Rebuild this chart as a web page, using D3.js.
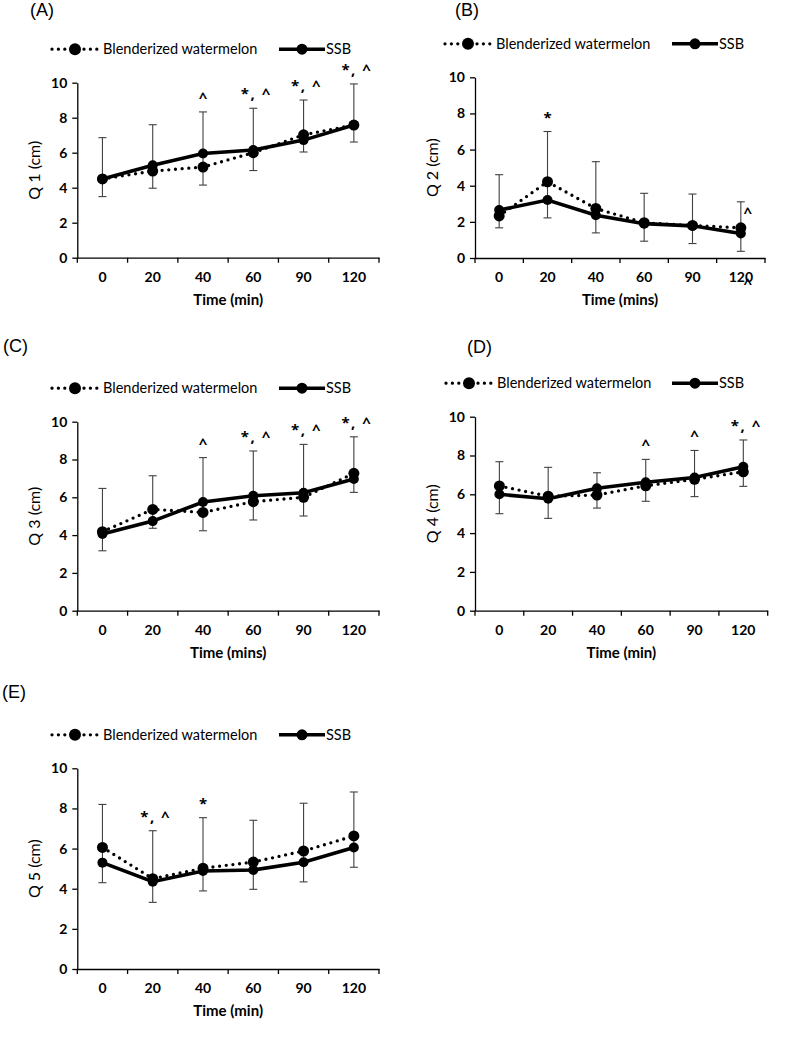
<!DOCTYPE html>
<html>
<head>
<meta charset="utf-8">
<script src="https://cdn.jsdelivr.net/npm/d3@7"></script>
<style>
  body { margin: 0; background: #fff; }
  text { font-family: Lato, "Open Sans", sans-serif; fill: #000; }
</style>
</head>
<body>
<div id="chart"></div>
<script>
// time points (x categories)
const times = ["0", "20", "40", "60", "90", "120"];
const yTicks = [0, 2, 4, 6, 8, 10];

// Q1
const q1Blend = [4.5, 4.95, 5.18, 6.0, 7.02, 7.58];
const q1Ssb = [4.5, 5.28, 5.95, 6.15, 6.72, 7.58];
const q1Hi = [6.86, 7.6, 8.33, 8.54, 9.01, 9.93];
const q1Lo = [3.49, 3.97, 4.15, 4.98, 6.04, 6.61];
const q1Sig = ["", "", "^", "*, ^", "*, ^", "*, ^"];

// Q2
const q2Blend = [2.33, 4.22, 2.74, 1.95, 1.8, 1.67];
const q2Ssb = [2.65, 3.21, 2.37, 1.9, 1.78, 1.36];
const q2Hi = [4.61, 7.0, 5.33, 3.58, 3.54, 3.11];
const q2Lo = [1.67, 2.22, 1.39, 0.93, 0.8, 0.37];
const q2Sig = ["", "*", "", "", "", "^"];

// Q3
const q3Blend = [4.18, 5.36, 5.2, 5.77, 6.0, 7.27];
const q3Ssb = [4.06, 4.74, 5.75, 6.08, 6.24, 6.97];
const q3Hi = [6.47, 7.14, 8.1, 8.45, 8.8, 9.2];
const q3Lo = [3.17, 4.36, 4.23, 4.8, 5.01, 6.26];
const q3Sig = ["", "", "^", "*, ^", "*, ^", "*, ^"];

// Q4
const q4Blend = [6.43, 5.9, 5.96, 6.44, 6.77, 7.16];
const q4Ssb = [6.0, 5.77, 6.31, 6.62, 6.87, 7.42];
const q4Hi = [7.68, 7.39, 7.11, 7.8, 8.26, 8.8];
const q4Lo = [5.0, 4.76, 5.29, 5.64, 5.88, 6.41];
const q4Sig = ["", "", "", "^", "^", "*, ^"];

// Q5
const q5Blend = [6.06, 4.5, 5.02, 5.33, 5.88, 6.63];
const q5Ssb = [5.3, 4.35, 4.88, 4.93, 5.32, 6.05];
const q5Hi = [8.2, 6.89, 7.54, 7.41, 8.26, 8.82];
const q5Lo = [4.3, 3.32, 3.89, 3.97, 4.34, 5.07];
const q5Sig = ["", "*, ^", "*", "", "", ""];

const width = 787;
const height = 1045;

const svg = d3
	.select("#chart")
	.append("svg")
	.attr("width", width)
	.attr("height", height)
	.style("background", "#fff");

// panel layout (pixel boxes of each plot area)
const panels = [
	{ tag: "(A)", tagX: 30, tagY: 16, yLabel: "Q 1 (cm)", xLabel: "Time (min)",
	  x0: 77.3, x1: 379, yTop: 82.7, yBot: 257.7, legX: 52, legX2: 279,
	  blend: q1Blend, ssb: q1Ssb, hi: q1Hi, lo: q1Lo, sig: q1Sig },
	{ tag: "(B)", tagX: 455, tagY: 16, yLabel: "Q 2 (cm)", xLabel: "Time (mins)",
	  x0: 475, x1: 765, yTop: 77.3, yBot: 258, legX: 445, legX2: 672,
	  blend: q2Blend, ssb: q2Ssb, hi: q2Hi, lo: q2Lo, sig: q2Sig },
	{ tag: "(C)", tagX: 3, tagY: 352, yLabel: "Q 3 (cm)", xLabel: "Time (mins)",
	  x0: 77.3, x1: 379, yTop: 421.7, yBot: 610.7, legX: 52, legX2: 279,
	  blend: q3Blend, ssb: q3Ssb, hi: q3Hi, lo: q3Lo, sig: q3Sig },
	{ tag: "(D)", tagX: 467, tagY: 353, yLabel: "Q 4 (cm)", xLabel: "Time (min)",
	  x0: 475, x1: 767.7, yTop: 416.7, yBot: 610.7, legX: 446, legX2: 672,
	  blend: q4Blend, ssb: q4Ssb, hi: q4Hi, lo: q4Lo, sig: q4Sig },
	{ tag: "(E)", tagX: 2, tagY: 698, yLabel: "Q 5 (cm)", xLabel: "Time (min)",
	  x0: 77.3, x1: 379, yTop: 768.3, yBot: 969, legX: 52, legX2: 279,
	  blend: q5Blend, ssb: q5Ssb, hi: q5Hi, lo: q5Lo, sig: q5Sig },
];

function drawPanel(p, idx) {
	const g = svg.append("g");

	const xScale = d3.scaleBand().domain(times).range([p.x0, p.x1]);
	const yScale = d3.scaleLinear().domain([0, 10]).range([p.yBot, p.yTop]);
	const cx = (t) => xScale(t) + xScale.bandwidth() / 2;

	// x axis: labels centred, ticks between categories (Excel style)
	const xAxis = g
		.append("g")
		.attr("transform", `translate(0, ${p.yBot})`)
		.call(d3.axisBottom(xScale).tickSize(0).tickPadding(14));
	xAxis.select(".domain").attr("stroke", "#000").attr("stroke-width", 1.3);
	xAxis
		.selectAll(".tick text")
		.style("font-size", "14px")
		.style("font-weight", "700")
		.style("font-family", "Lato, sans-serif");
	const xEdges = times.map((t) => xScale(t)).concat([p.x1]);
	g.selectAll("line.xtick")
		.data(xEdges)
		.enter()
		.append("line")
		.attr("x1", (d) => d)
		.attr("x2", (d) => d)
		.attr("y1", p.yBot)
		.attr("y2", p.yBot + 5)
		.attr("stroke", "#000")
		.attr("stroke-width", 1.3);

	const yAxis = g
		.append("g")
		.attr("transform", `translate(${p.x0}, 0)`)
		.call(d3.axisLeft(yScale).tickValues(yTicks).tickSize(5).tickSizeOuter(0).tickPadding(5));
	yAxis.select(".domain").attr("stroke", "#000").attr("stroke-width", 1.3);
	yAxis.selectAll(".tick line").attr("stroke", "#000").attr("stroke-width", 1.3);
	yAxis
		.selectAll(".tick text")
		.style("font-size", "14px")
		.style("font-weight", "700")
		.style("font-family", "Lato, sans-serif");

	// error bars
	const eb = g.append("g").attr("stroke", "#404040").attr("stroke-width", 1.1);
	times.forEach((t, i) => {
		const x = cx(t);
		eb.append("line").attr("x1", x).attr("x2", x).attr("y1", yScale(p.hi[i])).attr("y2", yScale(p.lo[i]));
		eb.append("line").attr("x1", x - 4).attr("x2", x + 4).attr("y1", yScale(p.hi[i])).attr("y2", yScale(p.hi[i]));
		eb.append("line").attr("x1", x - 4).attr("x2", x + 4).attr("y1", yScale(p.lo[i])).attr("y2", yScale(p.lo[i]));
	});

	const line = d3
		.line()
		.x((d, i) => cx(times[i]))
		.y((d) => yScale(d));

	// blenderized watermelon: dotted line
	g.append("path")
		.datum(p.blend)
		.attr("d", line)
		.attr("fill", "none")
		.attr("stroke", "#000")
		.attr("stroke-width", 3.3)
		.attr("stroke-linecap", "round")
		.attr("stroke-dasharray", "0 6.7");
	g.selectAll("circle.blend")
		.data(p.blend)
		.enter()
		.append("circle")
		.attr("cx", (d, i) => cx(times[i]))
		.attr("cy", (d) => yScale(d))
		.attr("r", 5.5)
		.attr("fill", "#000");

	// SSB: solid line
	g.append("path")
		.datum(p.ssb)
		.attr("d", line)
		.attr("fill", "none")
		.attr("stroke", "#000")
		.attr("stroke-width", 3.6);
	g.selectAll("circle.ssb")
		.data(p.ssb)
		.enter()
		.append("circle")
		.attr("cx", (d, i) => cx(times[i]))
		.attr("cy", (d) => yScale(d))
		.attr("r", 5)
		.attr("fill", "#000");

	// significance marks
	times.forEach((t, i) => {
		if (!p.sig[i]) return;
		const special = idx === 1 && i === 5;
		g.append("text")
			.attr("x", special ? cx(t) + 7 : cx(t) + (p.sig[i].length > 1 ? 3 : 0))
			.attr("y", special ? yScale(p.hi[i]) + 16 : yScale(p.hi[i]) - 9)
			.attr("text-anchor", "middle")
			.style("font-family", "'Open Sans', sans-serif")
			.style("font-size", "15px")
			.style("font-weight", "700")
			.style("letter-spacing", p.sig[i].length > 1 ? "1.5px" : "0px")
			.text(p.sig[i]);
	});
	if (idx === 1) {
		// stray caret sitting on the last tick label
		g.append("text")
			.attr("x", cx("120") + 7)
			.attr("y", p.yBot + 31)
			.attr("text-anchor", "middle")
			.style("font-family", "'Open Sans', sans-serif")
			.style("font-size", "15px")
			.style("font-weight", "700")
			.text("^");
	}

	// axis labels
	g.append("text")
		.attr("x", (p.x0 + p.x1) / 2)
		.attr("y", p.yBot + 47)
		.attr("text-anchor", "middle")
		.style("font-size", "15px")
		.style("font-weight", "700")
		.text(p.xLabel);
	g.append("text")
		.attr("transform", `translate(${p.x0 - 37}, ${(p.yTop + p.yBot) / 2}) rotate(-90)`)
		.attr("text-anchor", "middle")
		.style("font-size", "16px")
		.text(p.yLabel);

	// panel tag
	g.append("text")
		.attr("x", p.tagX)
		.attr("y", p.tagY)
		.style("font-family", "'Liberation Sans', Arial, sans-serif")
		.style("font-size", "18px")
		.text(p.tag);

	// legend
	const ly = p.yTop - 33.5;
	const leg = g.append("g");
	leg.append("line")
		.attr("x1", p.legX).attr("x2", p.legX + 45)
		.attr("y1", ly).attr("y2", ly)
		.attr("stroke", "#000").attr("stroke-width", 3.3)
		.attr("stroke-linecap", "round").attr("stroke-dasharray", "0 6.4");
	leg.append("circle").attr("cx", p.legX + 23).attr("cy", ly).attr("r", 6).attr("fill", "#000");
	leg.append("text")
		.attr("x", p.legX + 51).attr("y", ly + 5)
		.style("font-size", "14.5px")
		.text("Blenderized watermelon");
	leg.append("line")
		.attr("x1", p.legX2).attr("x2", p.legX2 + 46)
		.attr("y1", ly).attr("y2", ly)
		.attr("stroke", "#000").attr("stroke-width", 3.6);
	leg.append("circle").attr("cx", p.legX2 + 23).attr("cy", ly).attr("r", 5.5).attr("fill", "#000");
	leg.append("text")
		.attr("x", p.legX2 + 47).attr("y", ly + 5)
		.style("font-size", "14.5px")
		.text("SSB");
}

panels.forEach((p, i) => drawPanel(p, i));
</script>
</body>
</html>
